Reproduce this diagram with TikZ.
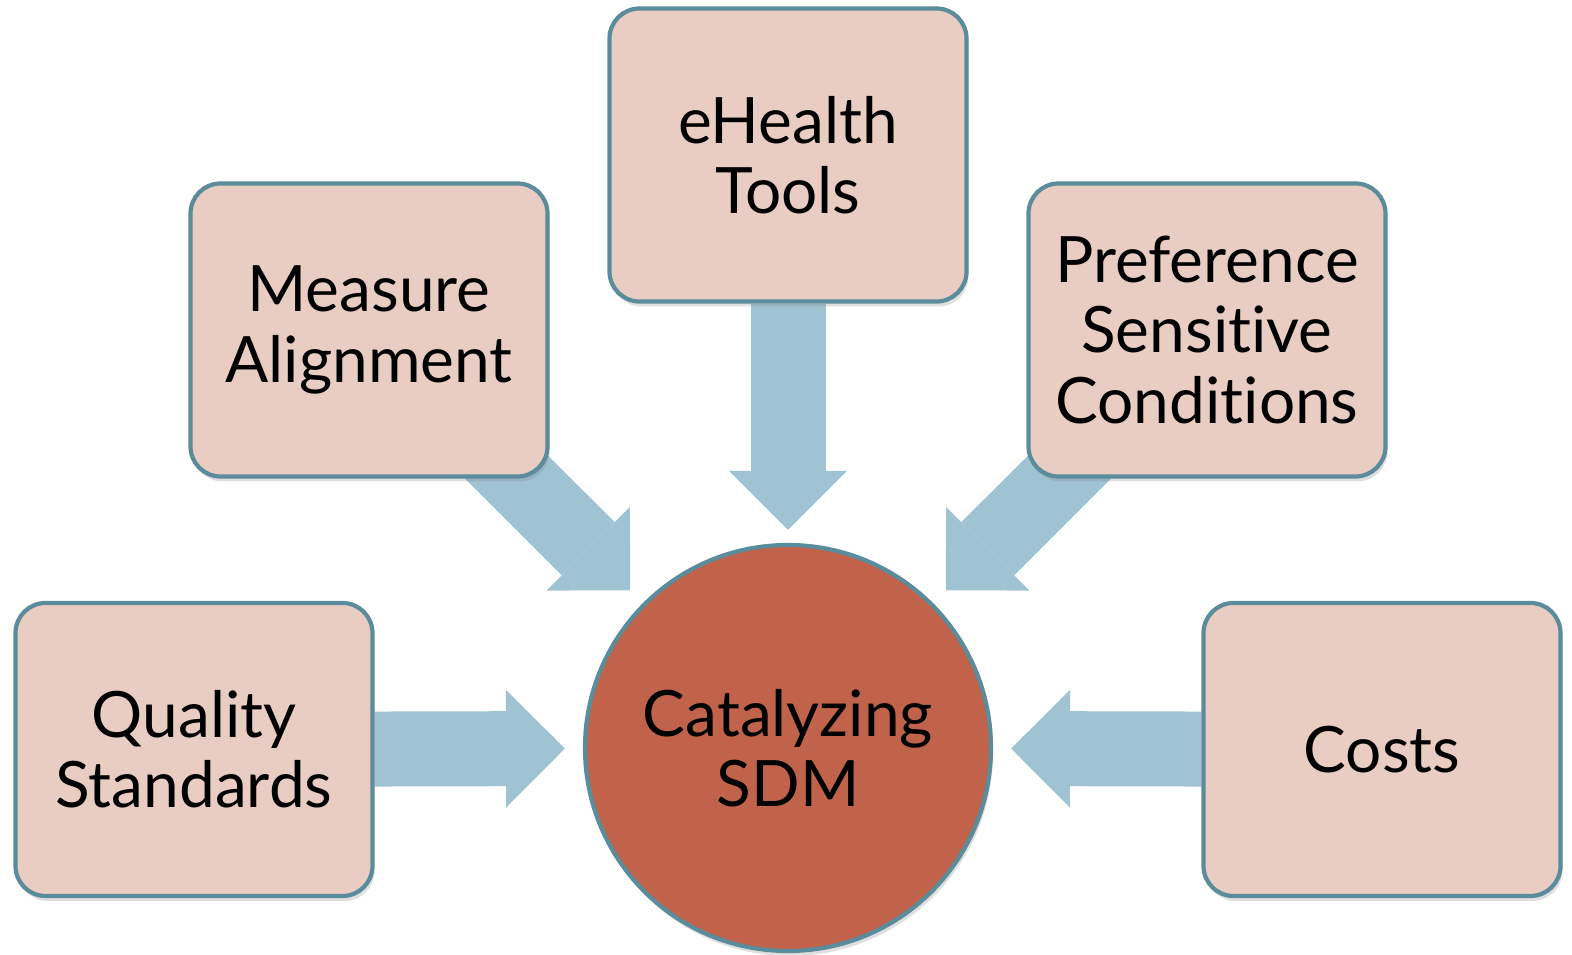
\documentclass[tikz,border=0pt]{standalone}
\usepackage{fontspec}
\setmainfont{Lato}[Ligatures=NoCommon]
\usepackage{xcolor}
\usetikzlibrary{arrows.meta,backgrounds,shadows}

\definecolor{boxfill}{HTML}{E9CDC3}
\definecolor{boxline}{HTML}{5B8C9B}
\definecolor{hubfill}{HTML}{C0634A}
\definecolor{arrowblue}{HTML}{9FC3D3}

\begin{document}
\begin{tikzpicture}[
    factor/.style={draw=boxline, line width=1.2pt, fill=boxfill, rounded corners=0.3cm,
        minimum width=3.57cm, minimum height=2.93cm, inner sep=0pt, align=center,
        font=\fontsize{18.2}{20}\selectfont,
        drop shadow={opacity=0.25, shadow xshift=0.02cm, shadow yshift=-0.05cm}},
    hub/.style={circle, draw=boxline, line width=1.2pt, fill=hubfill,
        minimum size=4.06cm, inner sep=0pt, align=center,
        font=\fontsize{18.2}{20}\selectfont,
        drop shadow={opacity=0.25, shadow xshift=0.02cm, shadow yshift=-0.05cm}},
    feed/.style={draw=arrowblue, line width=0.75cm,
        -{Triangle[length=0.59cm, width=1.18cm, line width=0pt]}, shorten >=0.18cm}
]
    \useasboundingbox (0,0) rectangle (15.72,9.55);

    \node[hub] (cat) at (7.88,2.07) {Catalyzing\\SDM};

    \node[factor] (qual) at (1.94,2.055) {Quality\\Standards};
    \node[factor] (meas) at (3.69,6.25) {Measure\\Alignment};
    \node[factor] (ehealth) at (7.88,8.00) {eHealth\\Tools};
    \node[factor] (pref) at (12.07,6.25) {Preference\\Sensitive\\Conditions};
    \node[factor] (costs) at (13.82,2.055) {Costs};

    \begin{scope}[on background layer]
        \draw[feed] (qual) -- (cat);
        \draw[feed] (costs) -- (cat);
        \draw[feed, shorten >=0.13cm] (ehealth) -- (cat);
        \draw[feed] (meas.center) -- (cat);
        \draw[feed] (pref.center) -- (cat);
    \end{scope}

\end{tikzpicture}
\end{document}
